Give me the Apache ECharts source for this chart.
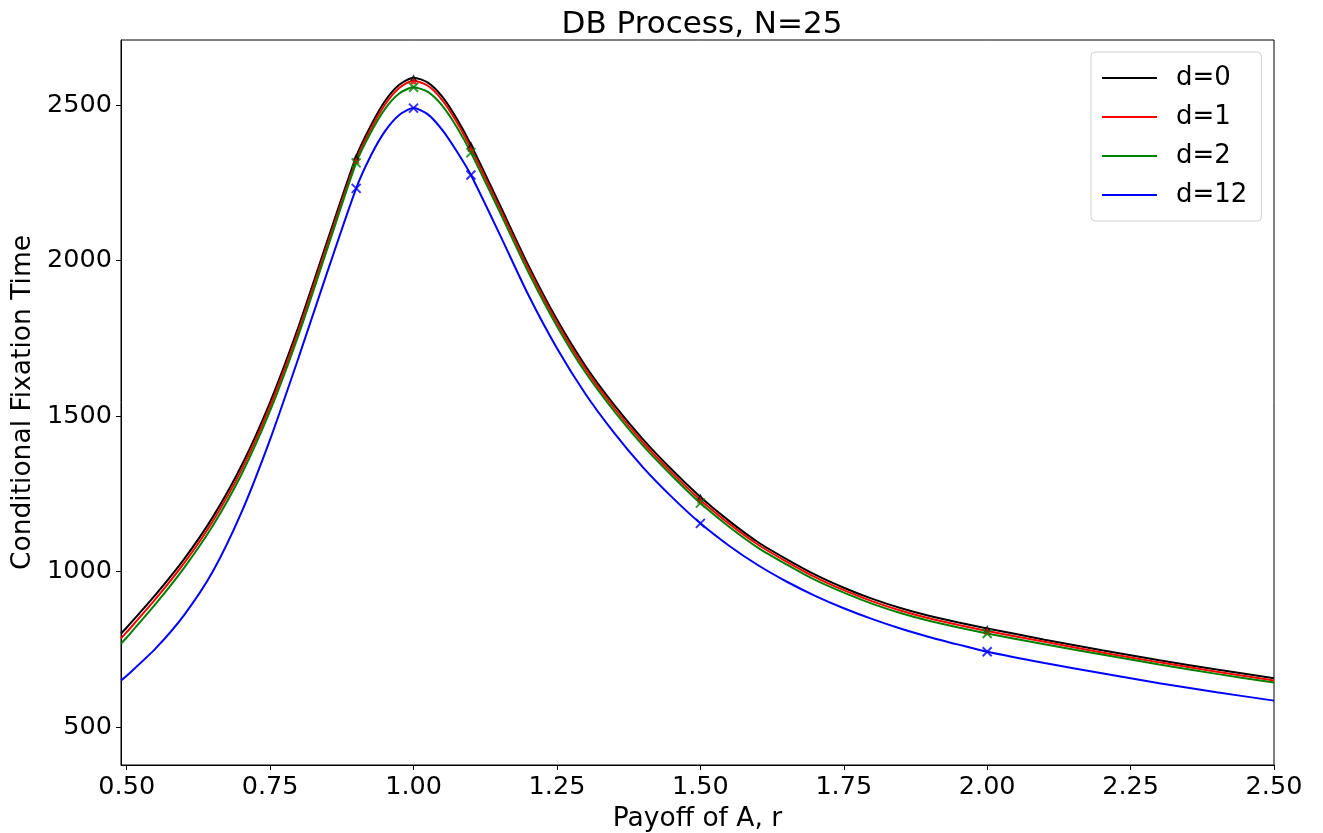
<!DOCTYPE html>
<html>
<head>
<meta charset="utf-8">
<title>DB Process, N=25</title>
<script src="https://cdn.jsdelivr.net/npm/echarts@6/dist/echarts.min.js"></script>
<style>
  html, body { margin: 0; padding: 0; background: #fff; }
  #chart { width: 1323px; height: 833px; }
</style>
</head>
<body>
<div id="chart"></div>
<script>
  // payoff grid the curves were read at
  var rValues = [0.49, 0.50, 0.55, 0.60, 0.65, 0.70, 0.75, 0.80, 0.85, 0.90, 0.925, 0.95, 0.975, 1.00,
    1.025, 1.05, 1.075, 1.10, 1.15, 1.20, 1.25, 1.30, 1.35, 1.40, 1.45, 1.50, 1.55, 1.60, 1.65, 1.70,
    1.75, 1.80, 1.85, 1.90, 1.95, 2.00, 2.10, 2.20, 2.30, 2.40, 2.50];

  var timeD0 = [800, 820, 925, 1040, 1175, 1340, 1545, 1790, 2065, 2334, 2432, 2512, 2565, 2588,
    2572, 2527, 2457, 2372, 2180, 1985, 1810, 1660, 1535, 1425, 1328, 1240, 1163, 1095, 1040, 990,
    948, 912, 882, 857, 836, 817, 781, 747, 715, 685, 657];
  var timeD1 = [785, 805, 911, 1027, 1162, 1327, 1532, 1777, 2053, 2322, 2421, 2501, 2555, 2578,
    2562, 2516, 2446, 2360, 2169, 1975, 1800, 1650, 1525, 1415, 1318, 1230, 1154, 1087, 1032, 982,
    940, 904, 874, 849, 828, 809, 774, 740, 708, 678, 650];
  var timeD2 = [768, 788, 895, 1012, 1147, 1312, 1517, 1763, 2040, 2314, 2410, 2487, 2537, 2557,
    2542, 2498, 2430, 2347, 2157, 1963, 1789, 1639, 1515, 1405, 1309, 1220, 1144, 1077, 1023, 973,
    932, 896, 866, 841, 820, 801, 766, 733, 701, 671, 643];
  var timeD12 = [650, 665, 752, 860, 1000, 1190, 1425, 1690, 1965, 2232, 2335, 2415, 2468, 2490,
    2470, 2420, 2352, 2275, 2085, 1890, 1718, 1570, 1445, 1335, 1240, 1155, 1083, 1021, 968, 922,
    882, 847, 816, 789, 765, 742, 706, 673, 641, 612, 585];

  // simulated points
  var markR = [0.9, 1.0, 1.1, 1.5, 2.0];
  var markD0 = [2334, 2588, 2372, 1240, 817];
  var markD1 = [2322, 2578, 2360, 1230, 809];
  var markD2 = [2314, 2557, 2347, 1220, 801];
  var markD12 = [2232, 2490, 2275, 1155, 742];

  var xTicks = [0.5, 0.75, 1.0, 1.25, 1.5, 1.75, 2.0, 2.25, 2.5];
  var yTicks = [500, 1000, 1500, 2000, 2500];

  var FONT = '"DejaVu Sans", sans-serif';
  var crossPath = 'path://M0,0 L10,10 M10,0 L0,10';

  function pairs(xs, ys) {
    return xs.map(function (x, i) { return [x, ys[i]]; });
  }

  function lineSeries(name, color, ys) {
    return {
      name: name,
      type: 'line',
      data: pairs(rValues, ys),
      showSymbol: false,
      smooth: 0.25,
      lineStyle: { color: color, width: 2 },
      itemStyle: { color: color },
      animation: false
    };
  }

  function markSeries(color, ys, symbol) {
    var cross = symbol === 'x';
    return {
      type: 'scatter',
      data: pairs(markR, ys),
      symbol: cross ? crossPath : 'triangle',
      symbolSize: cross ? 9 : 7,
      itemStyle: cross
        ? { color: 'rgba(0,0,0,0)', borderColor: color, borderWidth: 2 }
        : { color: color },
      animation: false,
      z: 3
    };
  }

  var chart = echarts.init(document.getElementById('chart'));
  chart.setOption({
    backgroundColor: '#fff',
    textStyle: { fontFamily: FONT },
    title: {
      text: 'DB Process, N=25',
      left: 697,
      textAlign: 'center',
      top: 4,
      textStyle: { fontFamily: FONT, fontSize: 31, fontWeight: 'normal', color: '#000' }
    },
    grid: {
      left: 121, right: 49, top: 40, bottom: 68,
      outerBoundsMode: 'none',
      containLabel: false,
      show: true, borderColor: '#000', borderWidth: 1, backgroundColor: 'transparent'
    },
    legend: {
      orient: 'vertical',
      left: 1091,
      top: 52,
      data: ['d=0', 'd=1', 'd=2', 'd=12'],
      icon: 'rect',
      itemWidth: 55,
      itemHeight: 2,
      itemGap: 13,
      padding: [13, 14, 13, 11],
      borderColor: '#d0d0d0',
      borderWidth: 1,
      borderRadius: 4,
      backgroundColor: 'rgba(255,255,255,0.8)',
      textStyle: { fontFamily: FONT, fontSize: 26, color: '#000', padding: [0, 0, 0, 14] }
    },
    xAxis: {
      type: 'value',
      min: 0.49,
      max: 2.5,
      name: 'Payoff of A, r',
      nameLocation: 'middle',
      nameGap: 41,
      nameTextStyle: { fontFamily: FONT, fontSize: 26.5, color: '#000' },
      axisLine: { show: true, lineStyle: { color: '#000', width: 1 } },
      axisTick: { show: true, length: 5, customValues: xTicks, lineStyle: { color: '#000' } },
      axisLabel: {
        customValues: xTicks,
        margin: 9,
        fontFamily: FONT, fontSize: 25.5, color: '#000',
        formatter: function (v) { return v.toFixed(2); }
      },
      splitLine: { show: false }
    },
    yAxis: {
      type: 'value',
      min: 378,
      max: 2709,
      name: 'Conditional Fixation Time',
      nameLocation: 'middle',
      nameGap: 67,
      nameTextStyle: { fontFamily: FONT, fontSize: 26.5, color: '#000' },
      axisLine: { show: true, lineStyle: { color: '#000', width: 1 } },
      axisTick: { show: true, length: 5, customValues: yTicks, lineStyle: { color: '#000' } },
      axisLabel: {
        customValues: yTicks,
        margin: 9,
        fontFamily: FONT, fontSize: 25.5, color: '#000',
        formatter: function (v) { return String(v); }
      },
      splitLine: { show: false }
    },
    series: [
      lineSeries('d=0', '#000000', timeD0),
      lineSeries('d=1', '#ff0000', timeD1),
      lineSeries('d=2', '#008000', timeD2),
      lineSeries('d=12', '#0000ff', timeD12),
      markSeries('#000000', markD0, 'tri'),
      markSeries('#ff0000', markD1, 'tri'),
      markSeries('#008000', markD2, 'x'),
      markSeries('#0000ff', markD12, 'x')
    ]
  });
</script>
</body>
</html>
